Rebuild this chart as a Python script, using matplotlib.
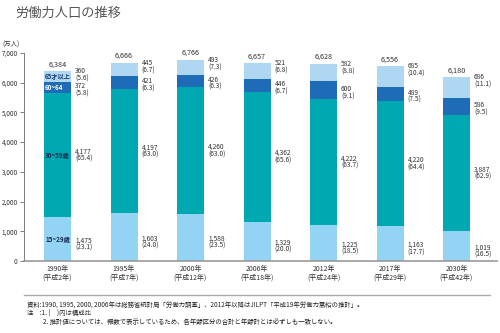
import matplotlib
matplotlib.use("Agg")
import matplotlib.pyplot as plt
import numpy as np

plt.rcParams['font.family'] = ['Noto Sans CJK JP', 'DejaVu Sans']

# --------- dados ---------
years = ["1990年\n(平成2年)", "1995年\n(平成7年)", "2000年\n(平成12年)", "2006年\n(平成18年)",
         "2012年\n(平成24年)", "2017年\n(平成29年)", "2030年\n(平成42年)"]
age_15_29 = [1475, 1603, 1588, 1329, 1225, 1163, 1019]
age_30_59 = [4177, 4197, 4260, 4362, 4222, 4220, 3887]
age_60_64 = [372, 421, 426, 446, 600, 489, 586]
age_65_up = [360, 445, 493, 521, 582, 685, 686]
totals = [6384, 6666, 6766, 6657, 6628, 6556, 6180]
pct_15_29 = ["23.1", "24.0", "23.5", "20.0", "18.5", "17.7", "16.5"]
pct_30_59 = ["65.4", "63.0", "63.0", "65.6", "63.7", "64.4", "62.9"]
pct_60_64 = ["5.8", "6.3", "6.3", "6.7", "9.1", "7.5", "9.5"]
pct_65_up = ["5.6", "6.7", "7.3", "6.8", "8.8", "10.4", "11.1"]
series_names = ["15~29歳", "30~59歳", "60~64", "65才以上"]

colors = ["#93d3f3", "#00a9b2", "#1e6cb8", "#b0d7f1"]

W, H = 500, 333
fig = plt.figure(figsize=(5, 3.33), dpi=100)

# eixo em pixels: esquerda 24, direita 497, base 261, topo (7000) 53
ax = fig.add_axes([24 / W, (H - 261) / H, (497 - 24) / W, (261 - 53) / H])

# centros das barras: 57.5 + 66.5*i px
x = np.arange(len(years))
ax.set_xlim((24 - 57.5) / 66.5, (497 - 57.5) / 66.5)
ax.set_ylim(0, 7000)
bw = 27 / 66.5
px_y = 7000 / 208  # unidades por pixel

layers = [age_15_29, age_30_59, age_60_64, age_65_up]
pcts = [pct_15_29, pct_30_59, pct_60_64, pct_65_up]
bottom = np.zeros(len(x))
for k, (vals, pc, col) in enumerate(zip(layers, pcts, colors)):
    vals = np.array(vals, dtype=float)
    ax.bar(x, vals, bw, bottom=bottom, color=col, linewidth=0)
    for i in range(len(x)):
        lx = x[i] + bw / 2 + 4 / 66.5
        if k == 3:
            # 65才以上: rótulo alinhado ao topo do segmento
            ly, va = bottom[i] + vals[i] + 4 * px_y, "top"
        elif k == 2:
            ly, va = bottom[i] + vals[i] / 2 - 2.5 * px_y, "center"
        elif k == 0:
            ly, va = bottom[i] + vals[i] / 2 - 5 * px_y, "center"
        else:
            ly, va = bottom[i] + vals[i] / 2, "center"
        ax.text(lx, ly, f"{int(vals[i]):,}\n({pc[i]})", fontsize=4.8, color="#333333",
                ha="left", va=va, linespacing=0.88)
    bottom += vals

for i in range(len(x)):
    ax.text(x[i], totals[i] + 3 * px_y, f"{totals[i]:,}", fontsize=5.2, color="#333333",
            ha="center", va="bottom")

# rótulos dentro da primeira barra
b0 = np.cumsum([0] + [l[0] for l in layers])
in_colors = ["#1a2a50", "#1a2a50", "white", "#1a3a70"]
for k, name in enumerate(series_names):
    ax.text(x[0] - bw / 2 + 1 / 66.5, (b0[k] + b0[k + 1]) / 2, name, fontsize=4.5,
            color=in_colors[k], ha="left", va="center", fontweight="bold")

ax.set_xticks(x)
ax.set_xticklabels(years, fontsize=5, color="#333333", linespacing=1.1)
ax.tick_params(axis="x", length=0, pad=3)
ax.set_yticks(range(0, 7001, 1000))
ax.set_yticklabels([f"{v:,}" for v in range(0, 7001, 1000)], fontsize=4.6, color="#333333")
ax.tick_params(axis="y", length=3, width=0.6, color="#666666", pad=1.5)

for s in ["top", "right"]:
    ax.spines[s].set_visible(False)
ax.spines["left"].set_color("#666666")
ax.spines["left"].set_linewidth(0.6)
ax.spines["bottom"].set_color("#999999")
ax.spines["bottom"].set_linewidth(1.2)

# título e unidade
fig.text(15 / W, 1 - 13 / H, "労働力人口の推移", fontsize=9.5, color="#555555",
         ha="left", va="center")
fig.text(2 / W, 1 - 45 / H, "(万人)", fontsize=4.6, color="#333333", ha="left", va="center")

# linha separadora e notas
fig.add_artist(plt.Line2D([24 / W, 490 / W], [1 - 295 / H, 1 - 295 / H],
                          color="#aaaaaa", linewidth=1))
fig.text(27 / W, 1 - 306 / H,
         "資料:1990, 1995, 2000, 2006年は総務省統計局「労働力調査」、2012年以降はJILPT「平成19年労働力需給の推計」。",
         fontsize=4.6, color="#222222", ha="left", va="center")
fig.text(27 / W, 1 - 314 / H, "注　:1. (　)内は構成比", fontsize=4.6, color="#222222",
         ha="left", va="center")
fig.text(43 / W, 1 - 322 / H,
         "2. 推計値については、概数で表示しているため、各年齢区分の合計と年齢計とは必ずしも一致しない。",
         fontsize=4.6, color="#222222", ha="left", va="center")

fig.savefig("out.png", dpi=100)
